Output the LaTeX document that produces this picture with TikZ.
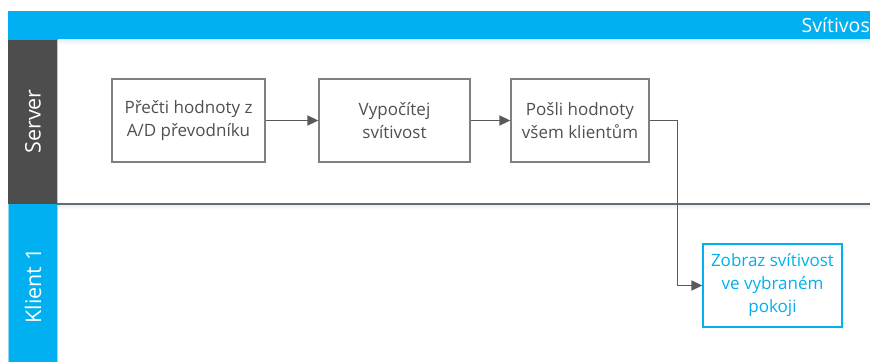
\documentclass[tikz,border=0pt]{standalone}
\usepackage{fontspec}
\setmainfont{Open Sans}
\usetikzlibrary{arrows.meta}
\definecolor{laneblue}{HTML}{00B0F0}
\definecolor{lanedark}{HTML}{4D4D4D}
\definecolor{lineGrey}{HTML}{595959}
\definecolor{boxGrey}{HTML}{7F7F7F}
\definecolor{textGrey}{HTML}{505050}
\definecolor{edgeBlue}{HTML}{8FD9F6}
\definecolor{haze}{HTML}{E3F1FA}
\tikzset{
  x=1pt, y=-1pt,
  stepbox/.style={draw=boxGrey, line width=1.3pt, fill=white, minimum height=83pt,
    align=center, text=textGrey, font=\fontsize{17}{23}\selectfont, inner sep=2pt},
  clientbox/.style={stepbox, draw=laneblue, text=laneblue},
  flow/.style={draw=lineGrey, line width=1.6pt, -{Triangle[length=11pt,width=10pt]}},
  lanelabel/.style={text=white, rotate=90, font=\fontsize{21.5}{24}\selectfont},
}
\begin{document}
\begin{tikzpicture}
\useasboundingbox (0,0) rectangle (870,362);
\fill[white] (0,0) rectangle (870,362);

% pool header
\fill[laneblue] (8,11) rectangle (870,39.5);
\node[anchor=east, text=white, font=\fontsize{19.5}{22}\selectfont, inner sep=0pt] (title) at (870,25) {Svítivos};
\shade[top color=haze, bottom color=white] (58,39.5) rectangle (870,45);

% lane headers
\fill[lanedark] (8,39.5) rectangle (57,204);
\fill[laneblue] (8,204) rectangle (57,362);
\draw[edgeBlue, line width=0.8pt] (57.5,39.5) -- (57.5,362);
\draw[edgeBlue, line width=0.6pt] (8,204) -- (8,362);
\node[lanelabel] (server) at (33,121.5) {Server};
\node[lanelabel] (klient) at (33,286) {Klient 1};

% lane divider
\shade[top color=haze, bottom color=white] (58,204.5) rectangle (870,210);
\draw[draw=lineGrey!90, line width=1.4pt] (57,204) -- (870,204);

% process steps
\node[stepbox, minimum width=153pt] (b1) at (188.5,120.5) {Přečti hodnoty z\\A/D převodníku};
\node[stepbox, minimum width=151pt] (b2) at (394.5,120.5) {Vypočítej\\svítivost};
\node[stepbox, minimum width=138pt] (b3) at (580,120.5) {Pošli hodnoty\\všem klientům};
\node[clientbox, minimum width=139pt] (b4) at (772.5,285.5) {Zobraz svítivost\\ve vybraném\\pokoji};

% connectors
\draw[flow] (b1) -- (b2);
\draw[flow] (b2) -- (b3);
\draw[flow] (b3.east) -- ++(28,0) |- (b4.west);
\end{tikzpicture}
\end{document}
